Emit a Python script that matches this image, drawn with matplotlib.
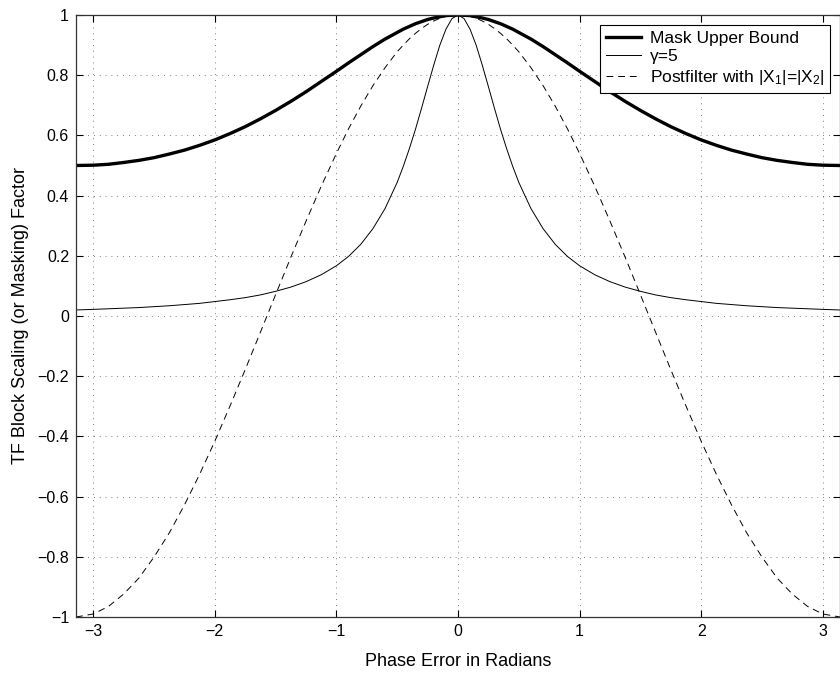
import matplotlib
matplotlib.use("Agg")
import matplotlib.pyplot as plt

plt.rcParams['font.family'] = ['Liberation Sans', 'DejaVu Sans']
plt.rcParams['mathtext.fontset'] = 'custom'
plt.rcParams['mathtext.rm'] = 'Liberation Sans'
plt.rcParams['mathtext.it'] = 'Liberation Sans'
plt.rcParams['mathtext.default'] = 'regular'

# Phase error samples (radians)
phase = [-3.1416, -3.0, -2.875, -2.75, -2.625, -2.5, -2.375, -2.25, -2.125, -2.0,
         -1.875, -1.75, -1.625, -1.5, -1.375, -1.25, -1.125, -1.0,
         -0.9, -0.8, -0.7, -0.6, -0.5, -0.45, -0.4, -0.35, -0.3, -0.25,
         -0.2, -0.15, -0.1, -0.05, 0.0,
         0.05, 0.1, 0.15, 0.2, 0.25, 0.3, 0.35, 0.4, 0.45, 0.5,
         0.6, 0.7, 0.8, 0.9, 1.0, 1.125, 1.25, 1.375, 1.5, 1.625, 1.75, 1.875,
         2.0, 2.125, 2.25, 2.375, 2.5, 2.625, 2.75, 2.875, 3.0, 3.1416]

mask_upper = [0.500, 0.501, 0.504, 0.510, 0.517, 0.526, 0.538, 0.551, 0.567, 0.585,
              0.606, 0.629, 0.655, 0.683, 0.713, 0.745, 0.779, 0.813,
              0.841, 0.868, 0.895, 0.920, 0.942, 0.953, 0.962, 0.971, 0.978, 0.985,
              0.990, 0.994, 0.998, 0.999, 1.000,
              0.999, 0.998, 0.994, 0.990, 0.985, 0.978, 0.971, 0.962, 0.953, 0.942,
              0.920, 0.895, 0.868, 0.841, 0.813, 0.779, 0.745, 0.713, 0.683, 0.655, 0.629, 0.606,
              0.585, 0.567, 0.551, 0.538, 0.526, 0.517, 0.510, 0.504, 0.501, 0.500]

gamma5 = [0.020, 0.022, 0.024, 0.026, 0.028, 0.031, 0.034, 0.038, 0.042, 0.048,
          0.054, 0.061, 0.070, 0.082, 0.096, 0.114, 0.137, 0.167,
          0.198, 0.238, 0.290, 0.357, 0.444, 0.497, 0.556, 0.620, 0.690, 0.762,
          0.833, 0.899, 0.952, 0.988, 1.000,
          0.988, 0.952, 0.899, 0.833, 0.762, 0.690, 0.620, 0.556, 0.497, 0.444,
          0.357, 0.290, 0.238, 0.198, 0.167, 0.137, 0.114, 0.096, 0.082, 0.070, 0.061, 0.054,
          0.048, 0.042, 0.038, 0.034, 0.031, 0.028, 0.026, 0.024, 0.022, 0.020]

postfilter = [-1.000, -0.990, -0.965, -0.924, -0.871, -0.801, -0.721, -0.628, -0.526, -0.416,
              -0.299, -0.178, -0.054, 0.071, 0.195, 0.315, 0.431, 0.540,
              0.622, 0.697, 0.765, 0.825, 0.878, 0.900, 0.921, 0.939, 0.955, 0.969,
              0.980, 0.989, 0.995, 0.999, 1.000,
              0.999, 0.995, 0.989, 0.980, 0.969, 0.955, 0.939, 0.921, 0.900, 0.878,
              0.825, 0.765, 0.697, 0.622, 0.540, 0.431, 0.315, 0.195, 0.071, -0.054, -0.178, -0.299,
              -0.416, -0.526, -0.628, -0.721, -0.801, -0.871, -0.924, -0.965, -0.990, -1.000]

labels = ['Mask Upper Bound', 'γ=5', 'Postfilter with |X$_1$|=|X$_2$|']
xticks = [-3, -2, -1, 0, 1, 2, 3]
yticks = [-1, -0.8, -0.6, -0.4, -0.2, 0, 0.2, 0.4, 0.6, 0.8, 1]
ytick_labels = ['−1', '−0.8', '−0.6', '−0.4', '−0.2', '0', '0.2', '0.4', '0.6', '0.8', '1']
xtick_labels = ['−3', '−2', '−1', '0', '1', '2', '3']

fig = plt.figure(figsize=(8.4, 6.75), dpi=100)
ax = fig.add_axes([76/840, 58/675, 764/840, 602/675])

ax.plot(phase, mask_upper, color='black', lw=2.4, label=labels[0])
ax.plot(phase, gamma5, color='black', lw=0.7, label=labels[1])
ax.plot(phase, postfilter, color='black', lw=0.7, ls=(0, (7, 5)), label=labels[2])

ax.set_xlim(-3.1416, 3.1416)
ax.set_ylim(-1, 1)
ax.set_xticks(xticks)
ax.set_xticklabels(xtick_labels)
ax.set_yticks(yticks)
ax.set_yticklabels(ytick_labels)
ax.tick_params(direction='in', top=True, right=True, labelsize=11.5, length=5, width=0.8, pad=5)
ax.grid(True, color='#555555', ls=(0, (1, 6)), lw=0.6)

for s in ax.spines.values():
    s.set_linewidth(0.9)
    s.set_color('#333333')

ax.set_xlabel('Phase Error in Radians', fontsize=13, labelpad=10)
ax.set_ylabel('TF Block Scaling (or Masking) Factor', fontsize=13, labelpad=6)

leg = ax.legend(loc='upper right', fontsize=12.5, frameon=True, fancybox=False,
                framealpha=1, edgecolor='black', handlelength=2.0, borderaxespad=0.55,
                labelspacing=0.2, borderpad=0.35, handletextpad=0.5)
leg.get_frame().set_linewidth(0.8)

fig.savefig('out.png', dpi=100)
